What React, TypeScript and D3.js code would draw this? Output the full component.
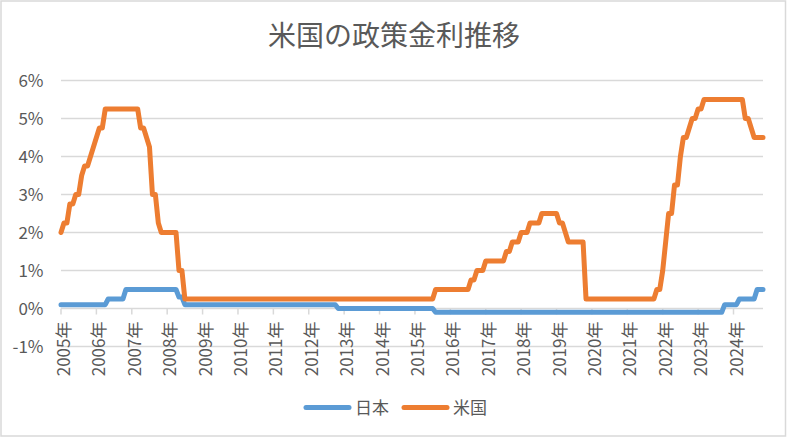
import React from "react";
import * as d3 from "d3";

// Category labels (one every 12 categories)
const yearLabels = [
  "2005年", "2006年", "2007年", "2008年", "2009年", "2010年", "2011年", "2012年", "2013年", "2014年",
  "2015年", "2016年", "2017年", "2018年", "2019年", "2020年", "2021年", "2022年", "2023年", "2024年",
];

const yTicks = [-1, 0, 1, 2, 3, 4, 5, 6];

// 米国 policy rate (%), one value per category (12 per label row)
const usRate = [
  2, 2.25, 2.25, 2.75, 2.75, 3, 3, 3.5, 3.75, 3.75, 4, 4.25,
  4.5, 4.75, 4.75, 5.25, 5.25, 5.25, 5.25, 5.25, 5.25, 5.25, 5.25, 5.25,
  5.25, 5.25, 5.25, 4.75, 4.75, 4.5, 4.25, 3, 3, 2.25, 2, 2,
  2, 2, 2, 2, 1, 1, 0.25, 0.25, 0.25, 0.25, 0.25, 0.25,
  0.25, 0.25, 0.25, 0.25, 0.25, 0.25, 0.25, 0.25, 0.25, 0.25, 0.25, 0.25,
  0.25, 0.25, 0.25, 0.25, 0.25, 0.25, 0.25, 0.25, 0.25, 0.25, 0.25, 0.25,
  0.25, 0.25, 0.25, 0.25, 0.25, 0.25, 0.25, 0.25, 0.25, 0.25, 0.25, 0.25,
  0.25, 0.25, 0.25, 0.25, 0.25, 0.25, 0.25, 0.25, 0.25, 0.25, 0.25, 0.25,
  0.25, 0.25, 0.25, 0.25, 0.25, 0.25, 0.25, 0.25, 0.25, 0.25, 0.25, 0.25,
  0.25, 0.25, 0.25, 0.25, 0.25, 0.25, 0.25, 0.25, 0.25, 0.25, 0.25, 0.25,
  0.25, 0.25, 0.25, 0.25, 0.25, 0.25, 0.25, 0.5, 0.5, 0.5, 0.5, 0.5,
  0.5, 0.5, 0.5, 0.5, 0.5, 0.5, 0.5, 0.75, 0.75, 1, 1, 1,
  1.25, 1.25, 1.25, 1.25, 1.25, 1.25, 1.25, 1.5, 1.5, 1.75, 1.75, 1.75,
  2, 2, 2, 2.25, 2.25, 2.25, 2.25, 2.5, 2.5, 2.5, 2.5, 2.5,
  2.5, 2.25, 2.25, 2, 1.75, 1.75, 1.75, 1.75, 1.75, 1.75, 0.25, 0.25,
  0.25, 0.25, 0.25, 0.25, 0.25, 0.25, 0.25, 0.25, 0.25, 0.25, 0.25, 0.25,
  0.25, 0.25, 0.25, 0.25, 0.25, 0.25, 0.25, 0.25, 0.25, 0.25, 0.5, 0.5,
  1, 1.75, 2.5, 2.5, 3.25, 3.25, 4, 4.5, 4.5, 4.75, 5, 5,
  5.25, 5.25, 5.5, 5.5, 5.5, 5.5, 5.5, 5.5, 5.5, 5.5, 5.5, 5.5,
  5.5, 5.5, 5.5, 5.5, 5, 5, 4.75, 4.5, 4.5, 4.5, 4.5,
];

// 日本 policy rate (%)
const jpRate = [
  0.1, 0.1, 0.1, 0.1, 0.1, 0.1, 0.1, 0.1, 0.1, 0.1, 0.1, 0.1,
  0.1, 0.1, 0.1, 0.1, 0.25, 0.25, 0.25, 0.25, 0.25, 0.25, 0.5, 0.5,
  0.5, 0.5, 0.5, 0.5, 0.5, 0.5, 0.5, 0.5, 0.5, 0.5, 0.5, 0.5,
  0.5, 0.5, 0.5, 0.5, 0.3, 0.3, 0.1, 0.1, 0.1, 0.1, 0.1, 0.1,
  0.1, 0.1, 0.1, 0.1, 0.1, 0.1, 0.1, 0.1, 0.1, 0.1, 0.1, 0.1,
  0.1, 0.1, 0.1, 0.1, 0.1, 0.1, 0.1, 0.1, 0.1, 0.1, 0.1, 0.1,
  0.1, 0.1, 0.1, 0.1, 0.1, 0.1, 0.1, 0.1, 0.1, 0.1, 0.1, 0.1,
  0.1, 0.1, 0.1, 0.1, 0.1, 0.1, 0.1, 0.1, 0.1, 0.1, 0, 0,
  0, 0, 0, 0, 0, 0, 0, 0, 0, 0, 0, 0,
  0, 0, 0, 0, 0, 0, 0, 0, 0, 0, 0, 0,
  0, 0, 0, 0, 0, 0, 0, -0.1, -0.1, -0.1, -0.1, -0.1,
  -0.1, -0.1, -0.1, -0.1, -0.1, -0.1, -0.1, -0.1, -0.1, -0.1, -0.1, -0.1,
  -0.1, -0.1, -0.1, -0.1, -0.1, -0.1, -0.1, -0.1, -0.1, -0.1, -0.1, -0.1,
  -0.1, -0.1, -0.1, -0.1, -0.1, -0.1, -0.1, -0.1, -0.1, -0.1, -0.1, -0.1,
  -0.1, -0.1, -0.1, -0.1, -0.1, -0.1, -0.1, -0.1, -0.1, -0.1, -0.1, -0.1,
  -0.1, -0.1, -0.1, -0.1, -0.1, -0.1, -0.1, -0.1, -0.1, -0.1, -0.1, -0.1,
  -0.1, -0.1, -0.1, -0.1, -0.1, -0.1, -0.1, -0.1, -0.1, -0.1, -0.1, -0.1,
  -0.1, -0.1, -0.1, -0.1, -0.1, -0.1, -0.1, -0.1, -0.1, -0.1, -0.1, -0.1,
  -0.1, -0.1, -0.1, -0.1, -0.1, -0.1, -0.1, -0.1, -0.1, 0.1, 0.1, 0.1,
  0.1, 0.1, 0.25, 0.25, 0.25, 0.25, 0.25, 0.25, 0.5, 0.5, 0.5,
];

const seriesNames = ["日本", "米国"];
const title = "米国の政策金利推移";

const W = 788;
const H = 438;
const FONT = "'Noto Sans CJK JP', 'Noto Sans', sans-serif";
const TEXT = "#595959";
const GRID = "#d9d9d9";
const COLORS = ["#5B9BD5", "#ED7D31"];

export default function App() {
  const n = usRate.length;
  const x = d3.scaleLinear().domain([0, n - 1]).range([61, 763]);
  const y = d3.scaleLinear().domain([-1, 6]).range([346.5, 80.5]);
  const line = d3
    .line<number>()
    .x((_, i) => x(i))
    .y((d) => y(d));

  const series = [jpRate, usRate];

  return (
    <div style={{ position: "absolute", left: 0, top: 0 }}>
      <svg width={W} height={H} style={{ display: "block", fontFamily: FONT }}>
        <rect x={0} y={0} width={W} height={H} fill="#fff" />
        <rect x={1} y={1} width={784.5} height={435} fill="none" stroke={GRID} strokeWidth={1.5} />
        <text x={W / 2} y={45.5} textAnchor="middle" fontSize={28} fill={TEXT}>
          {title}
        </text>
        {yTicks.map((t) => (
          <g key={t}>
            <line x1={61} x2={763} y1={y(t)} y2={y(t)} stroke={GRID} strokeWidth={1.5} />
            <text x={43.5} y={y(t) + 6} textAnchor="end" fontSize={17} fill={TEXT}>
              {`${t}%`}
            </text>
          </g>
        ))}
        {yearLabels.map((lab, k) => {
          const xi = x(k * 12);
          return (
            <g key={lab}>
              <line x1={xi} x2={xi} y1={y(0)} y2={y(0) + 6} stroke={GRID} strokeWidth={1.5} />
              <text
                transform={`translate(${xi + 1.5},321.5) rotate(-90)`}
                textAnchor="end"
                dominantBaseline="central"
                fontSize={17}
                fill={TEXT}
              >
                {lab}
              </text>
            </g>
          );
        })}
        {series.map((s, k) => (
          <path
            key={k}
            d={line(s) || ""}
            fill="none"
            stroke={COLORS[k]}
            strokeWidth={5}
            strokeLinejoin="round"
            strokeLinecap="round"
          />
        ))}
        {seriesNames.map((nm, k) => {
          const x0 = k === 0 ? 306 : 404;
          return (
            <g key={nm}>
              <line x1={x0} x2={x0 + 43} y1={407.5} y2={407.5} stroke={COLORS[k]} strokeWidth={5} strokeLinecap="round" />
              <text x={x0 + 49} y={413.5} fontSize={17} fill={TEXT}>
                {nm}
              </text>
            </g>
          );
        })}
      </svg>
    </div>
  );
}
